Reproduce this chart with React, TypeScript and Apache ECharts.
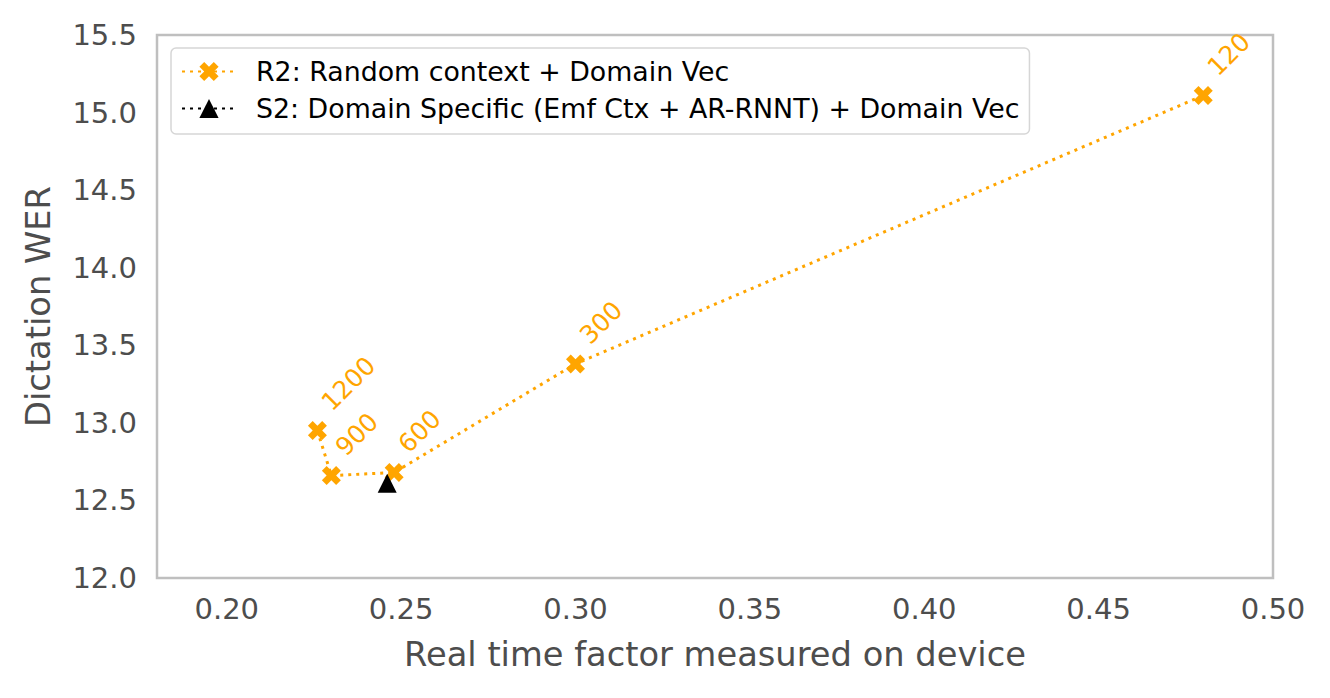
import React, { useEffect, useRef } from "react";
import * as echarts from "echarts";

// ---- data ----
const r2Rtf = [0.226, 0.230, 0.248, 0.300, 0.480];
const r2Wer = [12.95, 12.66, 12.68, 13.38, 15.11];
const r2Labels = ["1200", "900", "600", "300", "120"];
const s2Rtf = [0.246];
const s2Wer = [12.61];
const xTicks = [0.20, 0.25, 0.30, 0.35, 0.40, 0.45, 0.50];
const seriesNames = [
  "R2: Random context + Domain Vec",
  "S2: Domain Specific (Emf Ctx + AR-RNNT) + Domain Vec",
];

const ORANGE = "#FFA500";
const TEXT = "#4d4d4d";
const FONT = "DejaVu Sans";
const XMARK =
  "path://M25 0 L50 25 L75 0 L100 25 L75 50 L100 75 L75 100 L50 75 L25 100 L0 75 L25 50 L0 25 Z";

export default function App() {
  const ref = useRef<HTMLDivElement>(null);
  useEffect(() => {
    if (!ref.current) return;
    const chart = echarts.init(ref.current, undefined, { renderer: "svg" });
    const r2Data = r2Rtf.map((x, i) => ({
      value: [x, r2Wer[i]],
      label: { formatter: r2Labels[i] },
    }));
    const s2Data = s2Rtf.map((x, i) => [x, s2Wer[i]]);
    chart.setOption({
      animation: false,
      backgroundColor: "#ffffff",
      textStyle: { fontFamily: FONT },
      grid: {
        left: 157,
        right: 57,
        top: 35,
        bottom: 120,
        show: true,
        borderColor: "#bfbfbf",
        borderWidth: 2.5,
        backgroundColor: "transparent",
      },
      legend: {
        orient: "vertical",
        left: 171,
        top: 48,
        padding: [10, 10, 12, 10],
        itemWidth: 54,
        itemHeight: 24,
        itemGap: 10,
        borderColor: "#d6d6d6",
        borderWidth: 1.5,
        borderRadius: 5,
        backgroundColor: "#ffffff",
        textStyle: {
          fontFamily: FONT,
          fontSize: 26.8,
          color: "#000000",
          padding: [0, 0, 0, 15],
        },
        data: seriesNames,
      },
      xAxis: {
        type: "value",
        min: 0.18,
        max: 0.5,
        name: "Real time factor measured on device",
        nameLocation: "middle",
        nameGap: 59,
        nameTextStyle: { fontFamily: FONT, fontSize: 33.7, color: TEXT },
        axisLine: { show: false },
        axisTick: { show: false },
        splitLine: { show: false },
        axisLabel: {
          customValues: xTicks,
          formatter: (v: number) => v.toFixed(2),
          fontFamily: FONT,
          fontSize: 29,
          color: TEXT,
          margin: 16,
        },
      },
      yAxis: {
        type: "value",
        min: 12,
        max: 15.5,
        interval: 0.5,
        name: "Dictation WER",
        nameLocation: "middle",
        nameGap: 102,
        nameTextStyle: { fontFamily: FONT, fontSize: 33.7, color: TEXT },
        axisLine: { show: false },
        axisTick: { show: false },
        splitLine: { show: false },
        axisLabel: {
          formatter: (v: number) => v.toFixed(1),
          fontFamily: FONT,
          fontSize: 29,
          color: TEXT,
          margin: 20,
        },
      },
      series: [
        {
          name: seriesNames[0],
          type: "line",
          data: r2Data,
          symbol: XMARK,
          symbolSize: 19,
          color: ORANGE,
          itemStyle: { color: ORANGE },
          lineStyle: { color: ORANGE, width: 3, type: [3, 5] },
          label: {
            show: true,
            position: [27, -6],
            align: "left",
            verticalAlign: "bottom",
            rotate: 45,
            color: ORANGE,
            fontFamily: FONT,
            fontSize: 25,
          },
          z: 3,
        },
        {
          name: seriesNames[1],
          type: "line",
          data: s2Data,
          symbol: "triangle",
          symbolSize: 19,
          color: "#000000",
          itemStyle: { color: "#000000" },
          lineStyle: { color: "#000000", width: 3, type: [3, 5] },
          z: 4,
        },
      ],
    });
    return () => chart.dispose();
  }, []);
  return (
    <div
      ref={ref}
      style={{ position: "fixed", left: 0, top: 0, width: 1330, height: 698 }}
    />
  );
}
